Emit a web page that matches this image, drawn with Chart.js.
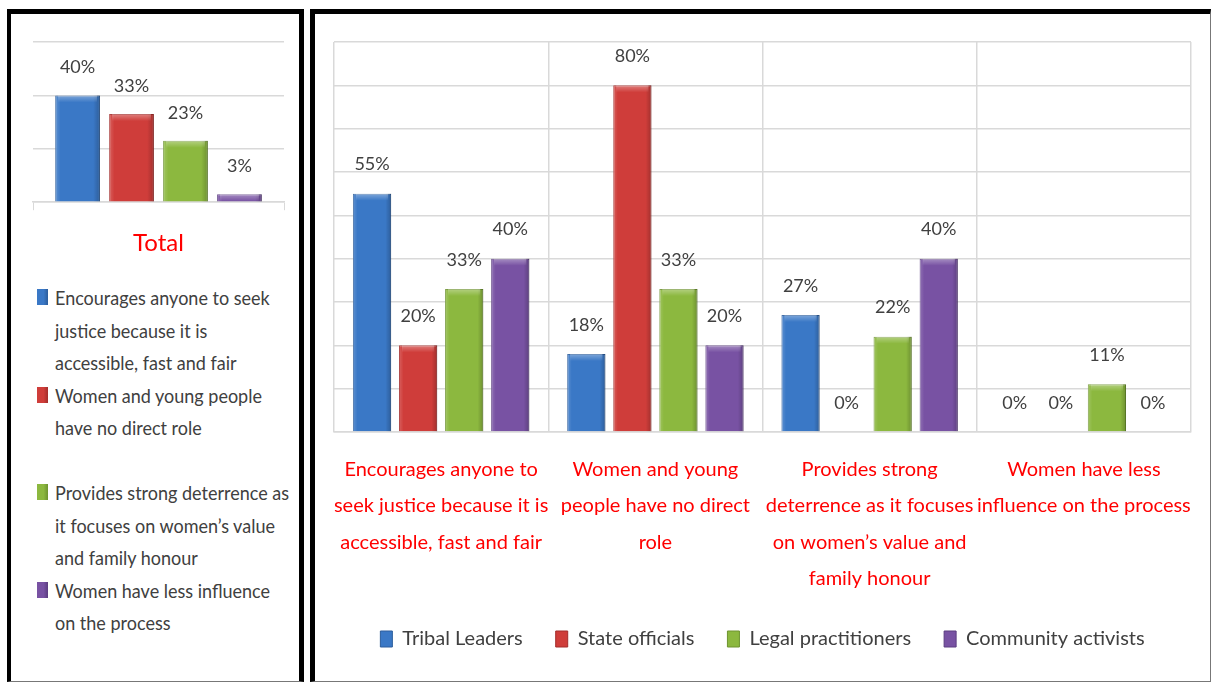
<!DOCTYPE html>
<html>
<head>
<meta charset="utf-8">
<script src="https://cdn.jsdelivr.net/npm/chart.js@4.4.1/dist/chart.umd.min.js"></script>
<style>
  body { margin: 0; background: #fff; }
  #page { position: relative; width: 1212px; height: 682px; overflow: hidden; background: #fff; }
  .panel { position: absolute; box-sizing: border-box; }
  #leftPanel { left: 7px; top: 9px; width: 297px; height: 673px;
    border-left: 4px solid #000; border-top: 5px solid #000; border-right: 5px solid #000; border-bottom: 1px solid #777; }
  #rightPanel { left: 310px; top: 9px; width: 901px; height: 673px;
    border-left: 5px solid #000; border-top: 5px solid #000; border-right: 1px solid #777; border-bottom: 1px solid #777; }
  #totalWrap { position: absolute; left: 12px; top: 14px; width: 290px; height: 250px; }
  #mainWrap { position: absolute; left: 315px; top: 14px; width: 895px; height: 665px; }
  #totalLegend { position: absolute; left: 37px; top: 281px; width: 265px;
    font-family: Lato, 'Open Sans', sans-serif; white-space: nowrap;
    font-size: 20px; color: #404040; line-height: 32.5px; }
  #totalLegend .item { position: relative; padding-left: 18px; }
  #totalLegend .txt { transform: scaleX(0.9); transform-origin: 0 50%; }
  #totalLegend .box { position: absolute; left: 0; top: 8px; width: 11px; height: 16px; }
</style>
</head>
<body>
<div id="page">
  <div class="panel" id="leftPanel"></div>
  <div class="panel" id="rightPanel"></div>
  <div id="totalWrap"><canvas id="totalChart"></canvas></div>
  <div id="totalLegend"></div>
  <div id="mainWrap"><canvas id="mainChart"></canvas></div>
</div>
<script>
// reasons (right chart x labels, already wrapped like the original)
const reasonLabels = [
  ['Encourages anyone to', 'seek justice because it is', 'accessible, fast and fair'],
  ['Women and young', 'people have no direct', 'role'],
  ['Provides strong', 'deterrence as it focuses', 'on women\u2019s value and', 'family honour'],
  ['Women have less', 'influence on the process']
];
// same reasons, wrapped as in the left legend
const reasonLegend = [
  ['Encourages anyone to seek', 'justice because it is', 'accessible, fast and fair'],
  ['Women and young people', 'have no direct role', ''],
  ['Provides strong deterrence as', 'it focuses on  women\u2019s value', 'and family honour'],
  ['Women have less influence', 'on the process']
];
const totalValues = [40, 33, 23, 3];

const groups = ['Tribal Leaders', 'State officials', 'Legal practitioners', 'Community activists'];
const tribalLeaders = [55, 18, 27, 0];
const stateOfficials = [20, 80, 0, 0];
const legalPractitioners = [33, 33, 22, 11];
const communityActivists = [40, 20, 40, 0];

const colors = ['#3a78c6', '#cf3d3a', '#8cb83f', '#7852a3'];
const edgeColors = ['#2c5d9c', '#a32d2b', '#6e9330', '#5b3d80'];

const narrow = "Lato, 'Open Sans', sans-serif";
const gridGray = '#d9d9d9';

// value labels above the bars + a soft bevel on every bar
const barDecor = {
  id: 'barDecor',
  afterDatasetsDraw(chart, args, opts) {
    const ctx = chart.ctx;
    chart.data.datasets.forEach((ds, di) => {
      const meta = chart.getDatasetMeta(di);
      meta.data.forEach((bar, i) => {
        const left = bar.x - bar.width / 2;
        const right = bar.x + bar.width / 2;
        const h = bar.base - bar.y;
        if (h > 1) {
          ctx.save();
          const g = ctx.createLinearGradient(left, 0, right, 0);
          g.addColorStop(0, 'rgba(255,255,255,0.18)');
          g.addColorStop(0.12, 'rgba(255,255,255,0)');
          g.addColorStop(0.85, 'rgba(0,0,0,0)');
          g.addColorStop(1, 'rgba(0,0,0,0.22)');
          ctx.fillStyle = g;
          ctx.fillRect(left, bar.y, bar.width, h);
          const th = Math.min(7, h);
          const tg = ctx.createLinearGradient(0, bar.y, 0, bar.y + th);
          tg.addColorStop(0, 'rgba(255,255,255,0.35)');
          tg.addColorStop(1, 'rgba(255,255,255,0)');
          ctx.fillStyle = tg;
          ctx.fillRect(left + 3, bar.y, bar.width - 6, th);
          ctx.restore();
        }
        ctx.save();
        ctx.font = opts.size + 'px ' + narrow;
        ctx.fillStyle = '#404040';
        ctx.textAlign = 'center';
        ctx.textBaseline = 'middle';
        ctx.fillText(ds.data[i] + '%', bar.x, bar.y - opts.offset);
        ctx.restore();
      });
    });
  }
};

// left: one category, one dataset per reason
new Chart(document.getElementById('totalChart'), {
  type: 'bar',
  data: {
    labels: ['Total'],
    datasets: reasonLegend.map((lines, k) => ({
      label: lines.join(' ').trim(),
      data: [totalValues[k]],
      backgroundColor: colors[k],
      borderColor: edgeColors[k],
      borderWidth: 1,
      categoryPercentage: 0.86,
      barPercentage: 0.83
    }))
  },
  options: {
    responsive: true,
    maintainAspectRatio: false,
    animation: false,
    layout: { padding: { left: 21, right: 18, top: 28, bottom: 0 } },
    plugins: {
      legend: { display: false },
      tooltip: { enabled: false },
      title: {
        display: true, text: 'Total', position: 'bottom', color: '#ff0000',
        font: { family: narrow, size: 24, weight: 'normal' },
        padding: { top: 19, bottom: 6 }
      },
      barDecor: { size: 18, offset: 28 }
    },
    scales: {
      x: {
        ticks: { display: false },
        grid: { drawOnChartArea: false, drawTicks: true, tickLength: 8, color: gridGray, offset: true },
        border: { color: gridGray, width: 1.5 }
      },
      y: {
        min: 0, max: 60,
        ticks: { display: false, stepSize: 20 },
        grid: { color: gridGray, lineWidth: 1.5, drawTicks: false },
        border: { display: false }
      }
    }
  },
  plugins: [barDecor]
});

// left legend (html)
const legendBox = document.getElementById('totalLegend');
reasonLegend.forEach((lines, k) => {
  const item = document.createElement('div');
  item.className = 'item';
  const box = document.createElement('span');
  box.className = 'box';
  box.style.background = 'linear-gradient(90deg,' + colors[k] + ' 60%,' + edgeColors[k] + ')';
  item.appendChild(box);
  lines.forEach(t => {
    const ln = document.createElement('div');
    ln.className = 'txt';
    ln.textContent = t === '' ? '\u00a0' : t;
    item.appendChild(ln);
  });
  legendBox.appendChild(item);
});

// right: grouped bars by reason
const seriesValues = [tribalLeaders, stateOfficials, legalPractitioners, communityActivists];
new Chart(document.getElementById('mainChart'), {
  type: 'bar',
  data: {
    labels: reasonLabels,
    datasets: groups.map((g, k) => ({
      label: g,
      data: seriesValues[k],
      backgroundColor: colors[k],
      borderColor: edgeColors[k],
      borderWidth: 1,
      categoryPercentage: 0.86,
      barPercentage: 0.83
    }))
  },
  options: {
    responsive: true,
    maintainAspectRatio: false,
    animation: false,
    layout: { padding: { left: 19, right: 19, top: 28, bottom: 20 } },
    plugins: {
      tooltip: { enabled: false },
      legend: {
        position: 'bottom',
        labels: {
          boxWidth: 12, boxHeight: 16, padding: 33, color: '#404040',
          font: { family: narrow, size: 20 }
        }
      },
      barDecor: { size: 18, offset: 29 }
    },
    scales: {
      x: {
        ticks: {
          color: '#ff0000', padding: 19, maxRotation: 0, autoSkip: false,
          font: { family: narrow, size: 20, lineHeight: 1.825 }
        },
        grid: { color: gridGray, lineWidth: 1.5, drawTicks: false, offset: true },
        border: { color: gridGray, width: 1.5 },
        afterFit(scale) {
          scale.height = 164;
          scale.paddingLeft = 0;
          scale.paddingRight = 0;
        }
      },
      y: {
        min: 0, max: 90,
        ticks: { display: false, stepSize: 10 },
        grid: { color: gridGray, lineWidth: 1.5, drawTicks: false },
        border: { display: false }
      }
    }
  },
  plugins: [barDecor]
});
</script>
</body>
</html>
